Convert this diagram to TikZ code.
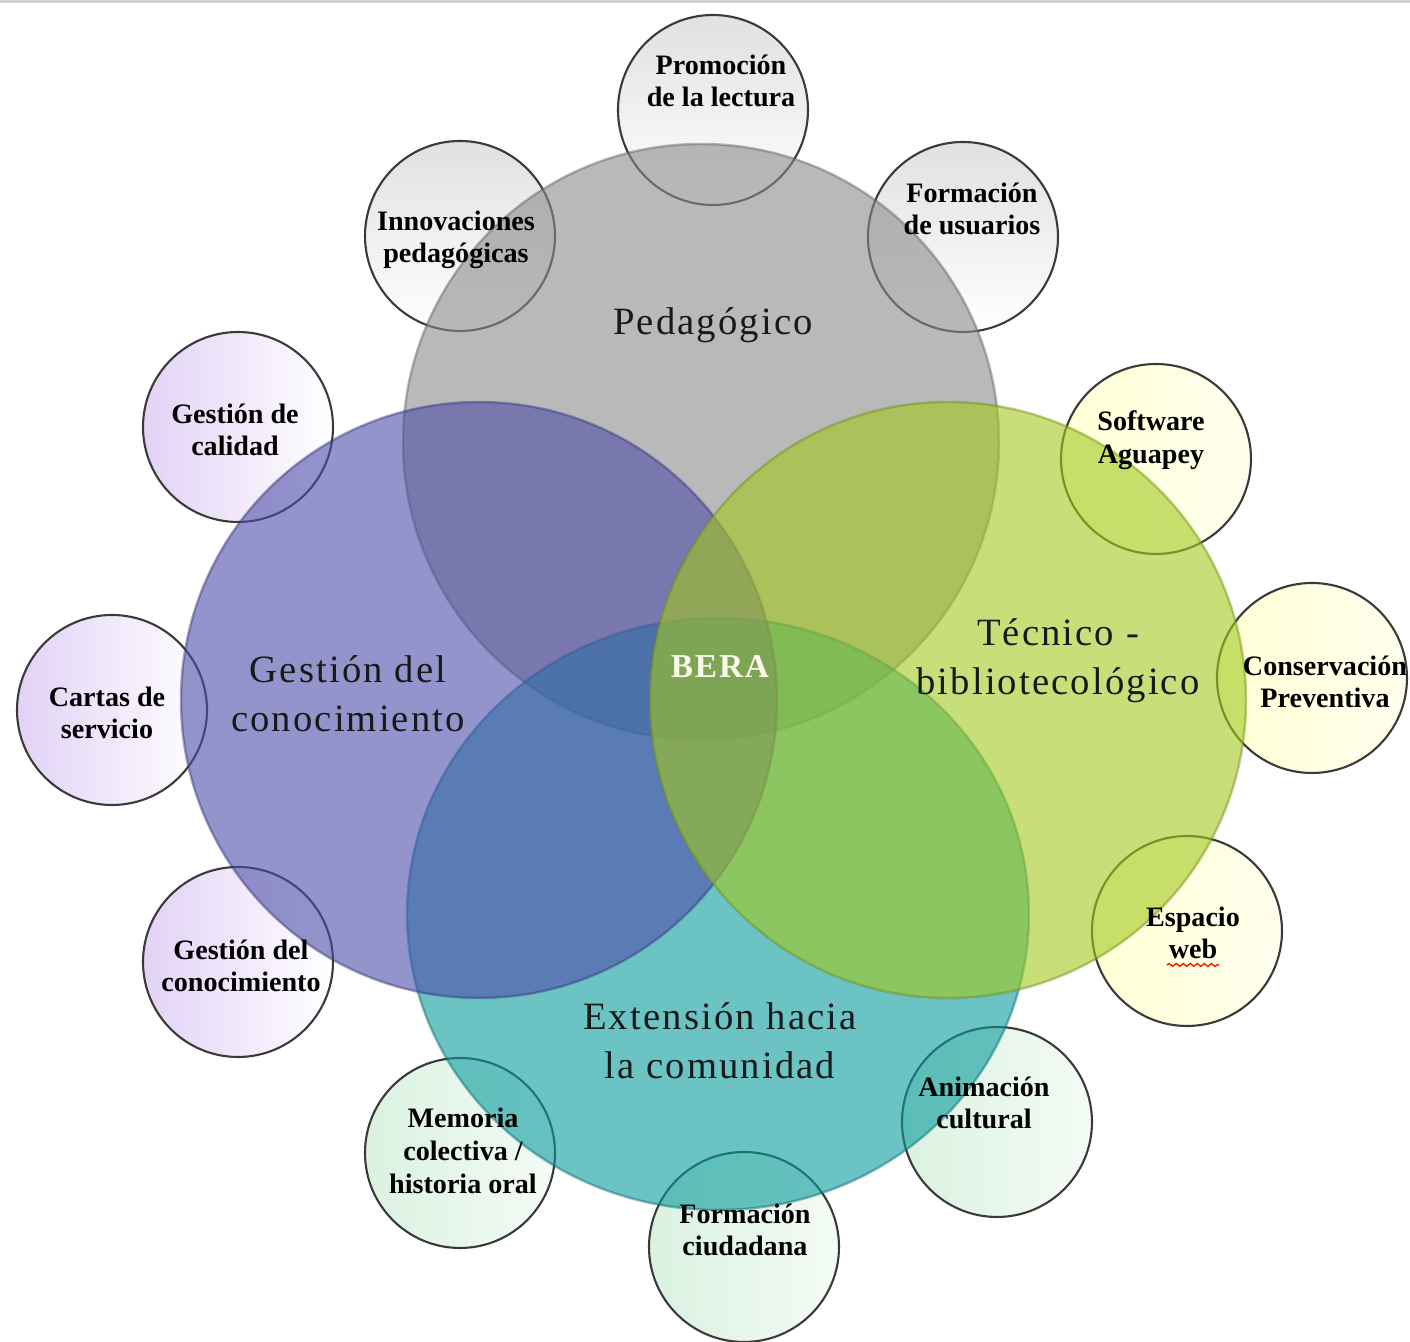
\documentclass[tikz,border=0pt]{standalone}
\usepackage{fontspec}
\setmainfont{Liberation Serif}
\newfontfamily\labelfont[LetterSpace=5.5]{Liberation Serif}
\usetikzlibrary{shapes.geometric,calc,decorations.pathmorphing}

\definecolor{pedgray}{RGB}{138,138,138}
\definecolor{gesblue}{RGB}{77,77,170}
\definecolor{tecgreen}{RGB}{163,200,30}
\definecolor{extteal}{RGB}{8,155,157}
\definecolor{ringline}{RGB}{58,58,58}
\definecolor{lilac}{RGB}{226,210,246}
\definecolor{cream}{RGB}{255,255,212}
\definecolor{mint}{RGB}{218,242,224}
\definecolor{beratext}{RGB}{250,250,235}

\begin{document}
\begin{tikzpicture}[
    bubble/.style={circle, draw=ringline, line width=0.6pt, minimum size=1.9cm, inner sep=0pt},
    graybub/.style={bubble, top color=black!12, bottom color=white},
    lilacbub/.style={bubble, left color=lilac, right color=white},
    creambub/.style={bubble, left color=cream, right color=cream!40},
    mintbub/.style={bubble, left color=mint, right color=mint!30},
    area/.style={circle, minimum size=5.96cm, inner sep=0pt, fill opacity=0.6, draw opacity=0.45, line width=0.7pt},
    bubtxt/.style={font=\fontsize{8}{9.3}\selectfont\bfseries, align=center, inner sep=0pt},
    areatxt/.style={font=\labelfont\fontsize{11}{14}\selectfont, align=center, inner sep=0pt, text=black!90},
    spellmark/.style={red!80!orange, line width=0.4pt, decorate, decoration={snake, amplitude=0.4pt, segment length=2pt}}
  ]
    \useasboundingbox (0,0) rectangle (14.1,13.42);
    \fill[black!18] (0,13.39) rectangle (14.1,13.42);

    % small circles first
    \node [graybub] (prom) at (7.13,12.32) {};
    \node [graybub] (innov) at (4.60,11.06) {};
    \node [graybub] (usu) at (9.63,11.05) {};
    \node [lilacbub] (calid) at (2.38,9.15) {};
    \node [lilacbub] (cartas) at (1.12,6.32) {};
    \node [lilacbub] (gcsmall) at (2.38,3.80) {};
    \node [creambub] (soft) at (11.56,8.83) {};
    \node [creambub] (conserv) at (13.12,6.64) {};
    \node [creambub] (web) at (11.87,4.11) {};
    \node [mintbub] (memo) at (4.60,1.89) {};
    \node [mintbub] (ciud) at (7.44,0.95) {};
    \node [mintbub] (anim) at (9.97,2.20) {};

    % the four areas
    \node [area, fill=pedgray, draw=pedgray!70!black] (ped) at (7.01,9.00) {};
    \node [area, ellipse, minimum width=6.22cm, minimum height=5.92cm, fill=extteal, draw=extteal!70!black] (ext) at (7.18,4.28) {};
    \node [area, fill=gesblue, draw=gesblue!70!black] (ges) at (4.79,6.42) {};
    \node [area, fill=tecgreen, draw=tecgreen!70!black] (tec) at (9.48,6.42) {};

    % labels
    \node [areatxt] (pedtxt) at (7.13,10.17) {Pedagógico};
    \node [areatxt] (gestxt) at (3.48,6.48) {Gestión del\\conocimiento};
    \node [areatxt] (tectxt) at (10.58,6.81) {Técnico -\\bibliotecológico};
    \node [areatxt] (exttxt) at (7.20,3.01) {Extensión hacia\\la comunidad};
    \node [areatxt, font=\labelfont\fontsize{9.5}{11}\selectfont\bfseries, text=beratext] (bera) at (7.20,6.75) {BERA};

    \node [bubtxt] (promtxt) at (7.21,12.61) {Promoción\\de la lectura};
    \node [bubtxt] (innovtxt) at (4.56,11.02) {Innovaciones\\pedagógicas};
    \node [bubtxt] (usutxt) at (9.72,11.33) {Formación\\de usuarios};
    \node [bubtxt] (calidtxt) at (2.35,9.12) {Gestión de\\calidad};
    \node [bubtxt] (cartastxt) at (1.07,6.29) {Cartas de\\servicio};
    \node [bubtxt] (gcsmalltxt) at (2.41,3.76) {Gestión del\\conocimiento};
    \node [bubtxt] (softtxt) at (11.51,9.02) {Software\\Aguapey};
    \node [bubtxt] (conservtxt) at (13.25,6.60) {Conservación\\Preventiva};
    \node [bubtxt] (webtxt) at (11.93,4.09) {Espacio\\web};
    \node [bubtxt] (memotxt) at (4.63,1.91) {Memoria\\colectiva /\\historia oral};
    \node [bubtxt] (animtxt) at (9.84,2.39) {Animación\\cultural};
    \node [bubtxt] (ciudtxt) at (7.45,1.12) {Formación\\ciudadana};

    \draw [spellmark] ($(webtxt.south)+(-0.26,-0.05)$) -- ++(0.52,0);
\end{tikzpicture}
\end{document}
